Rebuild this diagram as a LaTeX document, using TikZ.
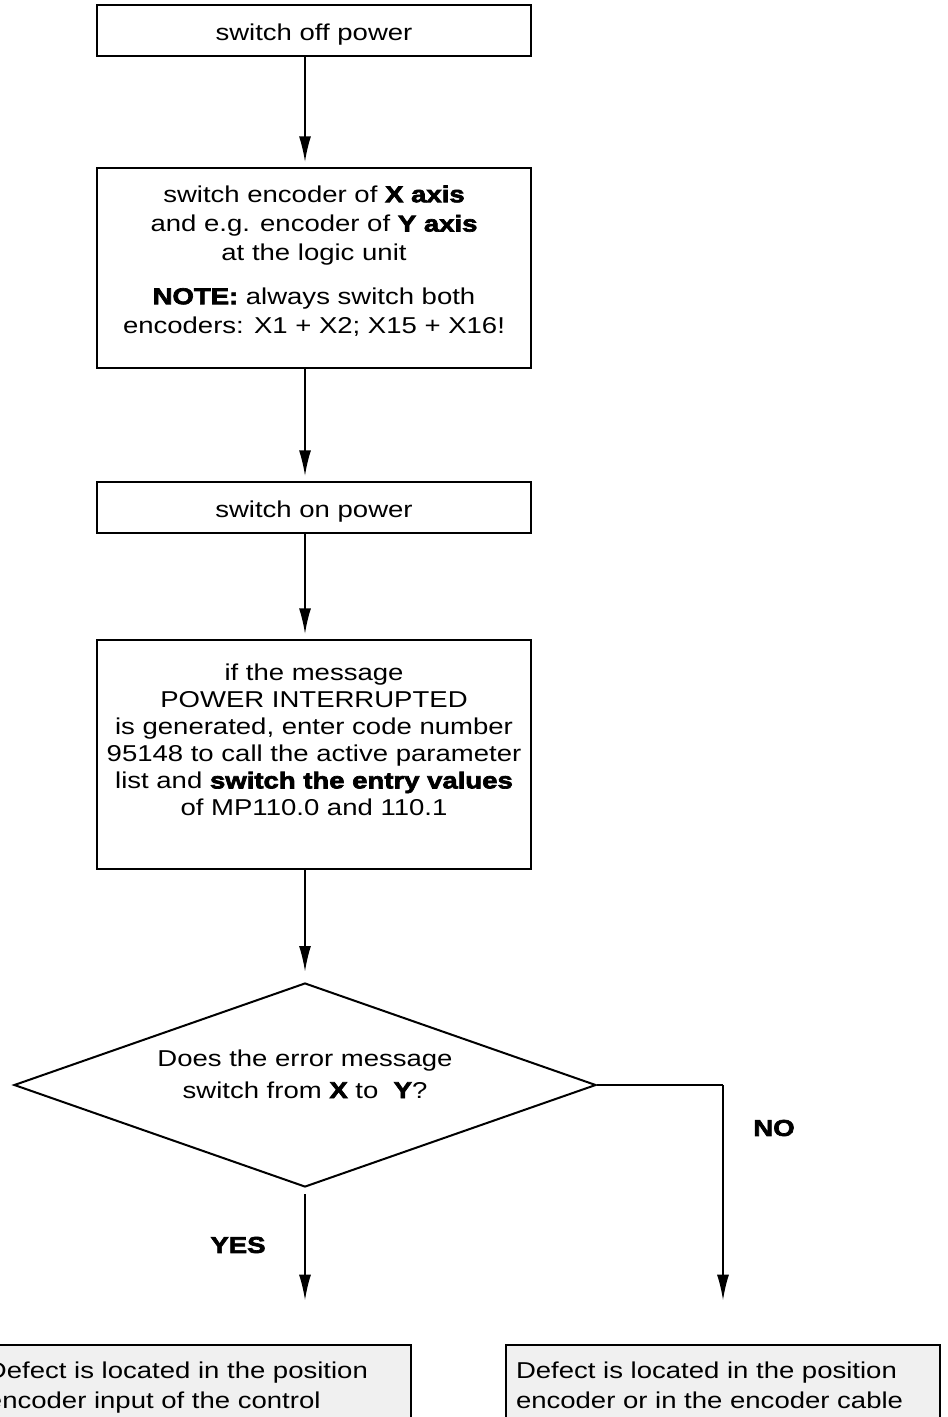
\documentclass[tikz,border=0pt]{standalone}
\usepackage{fontspec}
\setmainfont{Liberation Sans}[FakeStretch=1.2,BoldFeatures={FakeBold=3}]
\usetikzlibrary{arrows.meta,shapes.geometric}
% box text set as one block that can be lifted without changing its size
\newcommand{\lifted}[2]{\raisebox{#1}[\height][\depth]{\begin{tabular}{@{}c@{}}#2\end{tabular}}}

\begin{document}
\begin{tikzpicture}[x=0.75pt,y=0.75pt,yscale=-1,xscale=1,
    stepbox/.style={draw,line width=1.5pt,minimum width=325.5pt,inner sep=0pt,font={\fontsize{17.2}{20.25}\selectfont}},
    flow/.style={line width=1pt,-{Latex[length=19pt,width=9pt]},shorten >=4pt},
    notebox/.style={draw,line width=1.2pt,fill=black!6,anchor=north,text width=310.5pt,inner xsep=7.5pt,inner ysep=12.75pt,align=left,font={\fontsize{17.2}{22.5}\selectfont}},
    answer/.style={font={\fontsize{17.2}{20}\selectfont\bfseries}}]
    \useasboundingbox (0,0) rectangle (947,1417);
    \clip (0,0) rectangle (947,1417);
    %uncomment if require: \path (0,1417); %arrows run down this line
    \coordinate (spine) at (305,0);

    % Text Node
    \node[stepbox,minimum height=38.25pt] (b1) at (314,30.5) {\lifted{-3.5pt}{switch off power}};
    % Text Node
    \node[stepbox,minimum height=150pt,font={\fontsize{17.2}{22}\selectfont}] (b2) at (314,268) {\lifted{4.5pt}{switch encoder of \textbf{X axis}\\and e.g. encoder of \textbf{Y axis}\\at the logic unit\\[10.5pt]\textbf{NOTE:} always switch both\\encoders: X1 + X2; X15 + X16!}};
    % Text Node
    \node[stepbox,minimum height=38.25pt] (b3) at (314,507.5) {\lifted{-3.5pt}{switch on power}};
    % Text Node
    \node[stepbox,minimum height=171.75pt] (b4) at (314,754.5) {\lifted{9pt}{if the message\\POWER INTERRUPTED\\is generated, enter code number\\95148 to call the active parameter\\list and \textbf{switch the entry values}\\of MP110.0 and 110.1}};

    %Shape: Diamond
    \node[draw,diamond,aspect=2.85,line width=1.5pt,minimum width=436.5pt,minimum height=153pt,inner sep=0pt,font={\fontsize{17.2}{24}\selectfont}] (dia) at (305,1085) {\lifted{7pt}{Does the error message\\switch from \textbf{X} to\ \ \textbf{Y}?}};

    % Text Node
    \node[notebox] (yb) at (194,1344) {Defect is located in the position\\encoder input of the control};
    % Text Node
    \node[notebox] (nb) at (723,1344) {Defect is located in the position\\encoder or in the encoder cable};

    %Straight Lines
    \draw[flow] (b1.south -| spine) -- (b2.north -| spine);
    \draw[flow] (b2.south -| spine) -- (b3.north -| spine);
    \draw[flow] (b3.south -| spine) -- (b4.north -| spine);
    \draw[flow,shorten >=8pt] (b4.south -| spine) -- (dia.north);
    %Straight Lines
    \draw[flow,shorten <=4.5pt,shorten >=33pt] (dia.south) -- (dia.south |- yb.north);
    \coordinate (corner) at (dia.east -| nb.north);
    \draw[line width=1.5pt] (dia.east) -- (corner);
    \draw[flow,shorten >=33pt] (corner) -- (nb.north);

    % Text Node
    \node[answer] (yes) at (238,1245) {YES};
    % Text Node
    \node[answer] (no) at (774,1128) {NO};
\end{tikzpicture}
\end{document}
